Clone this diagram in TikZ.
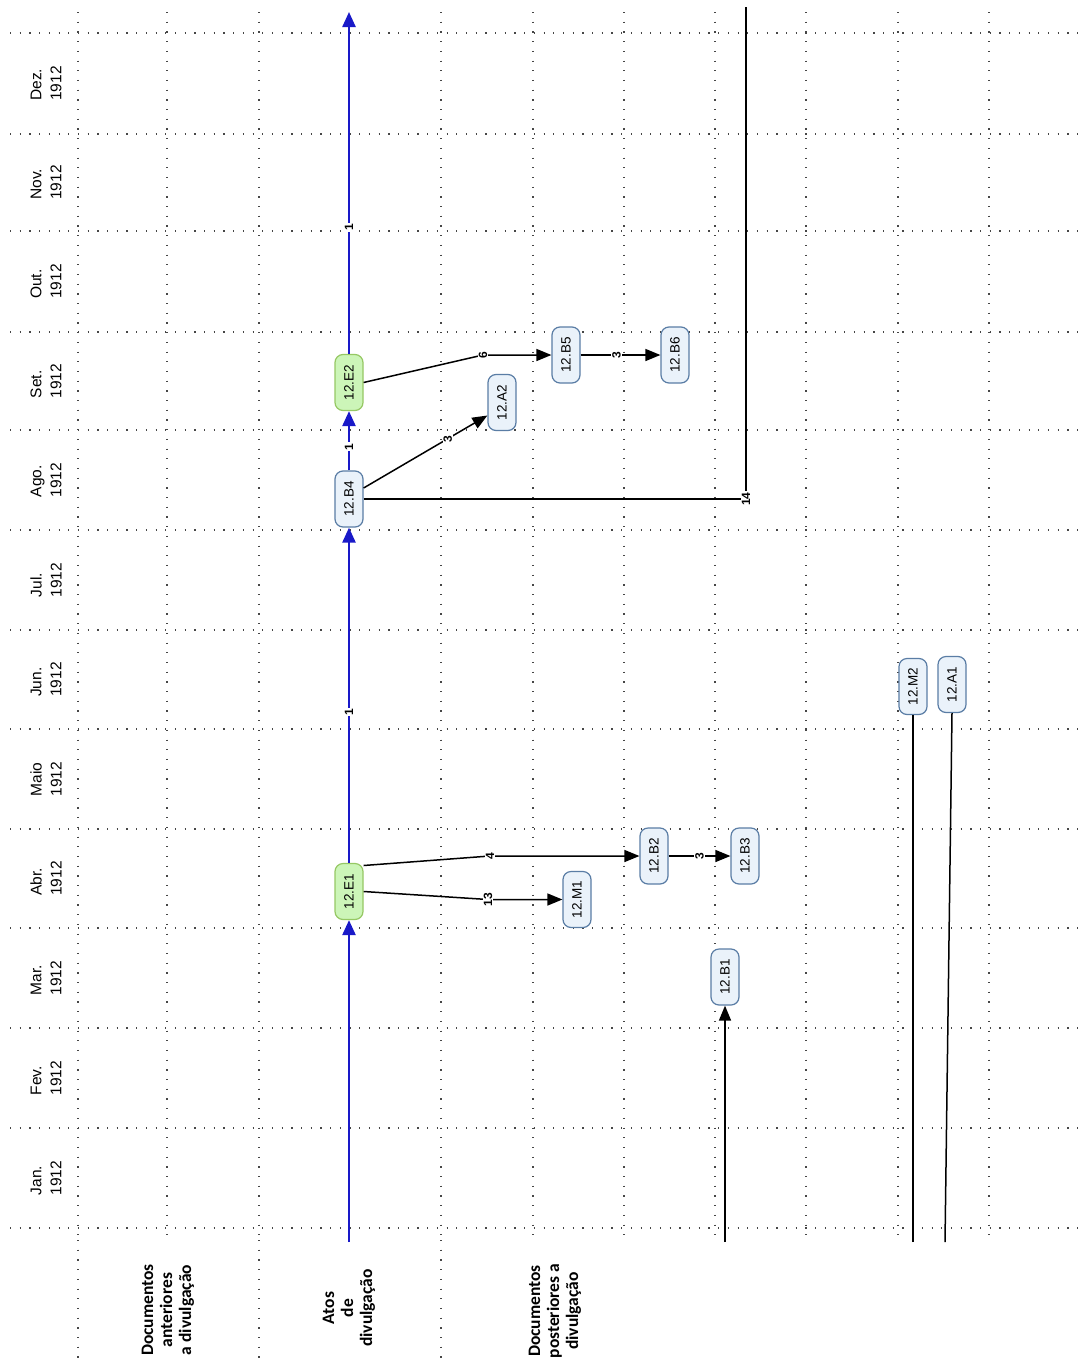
\documentclass[tikz,border=0pt]{standalone}
\usepackage{graphicx}
\usepackage{fontspec}
\setmainfont{Liberation Sans}
\newfontfamily\hdrfont{Carlito}
\usetikzlibrary{arrows.meta}
\definecolor{bluefill}{RGB}{234,242,250}
\definecolor{blueedge}{RGB}{90,125,165}
\definecolor{greenfill}{RGB}{204,245,184}
\definecolor{greenedge}{RGB}{150,200,100}
\definecolor{lineblue}{RGB}{25,25,200}
\definecolor{dotgray}{RGB}{70,70,70}
\begin{document}
\begin{tikzpicture}[x=1pt,y=-1pt,
  box/.style={draw=blueedge, fill=bluefill, line width=1.2pt, rounded corners=8pt,
    minimum width=28pt, minimum height=56pt, inner sep=0pt, font=\fontsize{13.5}{15}\selectfont},
  gbox/.style={box, draw=greenedge, fill=greenfill},
  gridline/.style={dotgray, line width=1.1pt, dash pattern=on 1.2pt off 8.5pt},
  blueline/.style={lineblue, line width=2.4pt, -{Triangle[length=15pt,width=13pt]}},
  conn/.style={black, line width=1.5pt, -{Triangle[length=15pt,width=12pt]}},
  plain/.style={black, line width=1.5pt},
  lab/.style={fill=white, text=black, inner sep=1pt, rotate=90, font=\bfseries\fontsize{12}{13}\selectfont},
  month/.style={font=\fontsize{15.5}{20}\selectfont, inner sep=0pt, rotate=90, align=left},
  hdr/.style={font=\hdrfont\bfseries\fontsize{17.5}{19}\selectfont, inner sep=0pt, rotate=90, align=center}
]
\useasboundingbox (0,0) rectangle (1078,1365);
\fill[white] (0,0) rectangle (1078,1365);

% grid
\foreach \y in {33,134,231,332,430,530,630,729,829,928,1028,1128,1228}
  \draw[gridline] (10,\y) -- (1078,\y);
\foreach \x in {78,167,259,441,533,624,715,806,898,989}
  \draw[gridline] (\x,12) -- (\x,1240);
\foreach \x in {78,259,441}
  \draw[gridline] (\x,1240) -- (\x,1365);

% month labels
\node[month] (mDez) at (46,83.5) {Dez.\\1912};
\node[month] (mNov) at (46,182.5) {Nov.\\1912};
\node[month] (mOut) at (46,281.5) {Out.\\1912};
\node[month] (mSet) at (46,381) {Set.\\1912};
\node[month] (mAgo) at (46,480) {Ago.\\1912};
\node[month] (mJul) at (46,580) {Jul.\\1912};
\node[month] (mJun) at (46,679.5) {Jun.\\1912};
\node[month] (mMai) at (46,779) {Maio\\1912};
\node[month] (mAbr) at (46,878.5) {Abr.\\1912};
\node[month] (mMar) at (46,978) {Mar.\\1912};
\node[month] (mFev) at (46,1078) {Fev.\\1912};
\node[month] (mJan) at (46,1178) {Jan.\\1912};

% headers
\node[hdr] (h1) at (168,1310) {Documentos\\anteriores\\a divulgação};
\node[hdr] (h2) at (349,1308) {Atos\\de\\divulgação};
\node[hdr] (h3) at (555,1311) {Documentos\\posteriores a\\divulgação};

% nodes
\node[gbox] (E1) at (349,891.5) {\rotatebox{90}{12.E1}};
\node[gbox] (E2) at (349,382.5) {\rotatebox{90}{12.E2}};
\node[box] (B4) at (349,499) {\rotatebox{90}{12.B4}};
\node[box] (M1) at (577,899.5) {\rotatebox{90}{12.M1}};
\node[box] (B2) at (654,856) {\rotatebox{90}{12.B2}};
\node[box] (B3) at (745,856) {\rotatebox{90}{12.B3}};
\node[box] (B1) at (725,977) {\rotatebox{90}{12.B1}};
\node[box] (A2) at (502,402.5) {\rotatebox{90}{12.A2}};
\node[box] (B5) at (566,355) {\rotatebox{90}{12.B5}};
\node[box] (B6) at (675,355) {\rotatebox{90}{12.B6}};
\node[box] (M2) at (913,686.5) {\rotatebox{90}{12.M2}};
\node[box] (A1) at (952,684.5) {\rotatebox{90}{12.A1}};

% free ends and bends
\coordinate (b0) at (349,1242);
\coordinate (btop) at (349,12);
\coordinate (k4) at (490,856);
\coordinate (k13) at (488,899.5);
\coordinate (k6) at (483,355);
\coordinate (k14) at (746,499);
\coordinate (t14) at (746,7);
\coordinate (cb1) at (725,1242);
\coordinate (cm2) at (913,1242);
\coordinate (ca1) at (945,1242);

% blue timeline
\draw[blueline] (b0) -- (E1.south);
\draw[blueline] (E1.north) -- node[lab, pos=0.45] (l1a) {1} (B4.south);
\draw[blueline] (B4.north) -- node[lab, pos=0.4] (l1b) {1} (E2.south);
\draw[blueline] (E2.north) -- node[lab, pos=0.37] (l1c) {1} (btop);

% black connectors
\draw[conn] ([yshift=26pt]E1.east) -- (k4) -- (B2.west);
\node[lab] (l4) at (k4) {4};
\draw[conn] (E1.east) -- (k13) -- (M1.west);
\node[lab] (l13) at (k13) {13};
\draw[conn] (B2.east) -- node[lab, pos=0.5] (l3a) {3} (B3.west);
\draw[conn] (E2.east) -- (k6) -- (B5.west);
\node[lab] (l6) at (k6) {6};
\draw[conn] (B5.east) -- node[lab, pos=0.45] (l3b) {3} (B6.west);
\draw[conn] ([yshift=11pt]B4.east) -- node[lab, pos=0.68] (l3c) {3} ([yshift=-13pt]A2.west);
\draw[plain] (B4.east) -- (k14) -- (t14);
\node[lab] (l14) at (k14) {14};
\draw[conn] (cb1) -- (B1.south);
\draw[plain] (cm2) -- (M2.south);
\draw[plain] (ca1) -- (A1.south);
\end{tikzpicture}
\end{document}
